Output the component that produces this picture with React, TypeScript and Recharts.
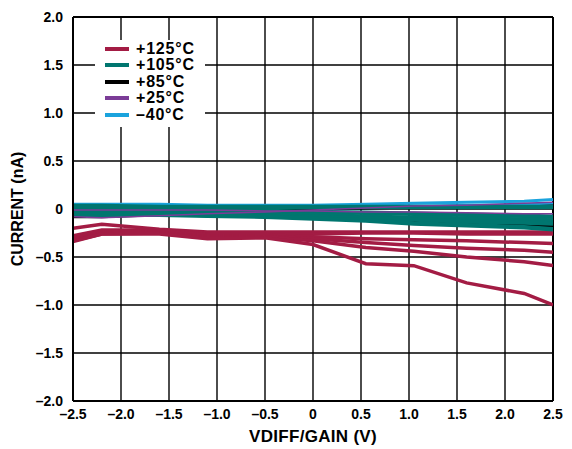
import React from 'react';
import {LineChart, Line, XAxis, YAxis, CartesianGrid, ReferenceLine, Label} from 'recharts';

// x positions (V) where the curves were sampled
const vdiff = [-2.5, -2.2, -1.6, -1.1, -0.5, 0, 0.55, 1.05, 1.6, 2.2, 2.5];

// +125°C parts
const hot1 = [-0.20, -0.16, -0.21, -0.24, -0.24, -0.24, -0.24, -0.24, -0.24, -0.24, -0.24];
const hot2 = [-0.28, -0.22, -0.22, -0.26, -0.26, -0.26, -0.25, -0.25, -0.26, -0.26, -0.26];
const hot3 = [-0.30, -0.24, -0.23, -0.27, -0.27, -0.29, -0.31, -0.32, -0.33, -0.35, -0.36];
const hot4 = [-0.32, -0.25, -0.24, -0.29, -0.28, -0.31, -0.35, -0.38, -0.41, -0.43, -0.45];
const hot5 = [-0.33, -0.26, -0.25, -0.30, -0.29, -0.33, -0.40, -0.44, -0.50, -0.55, -0.59];
const hot6 = [-0.34, -0.26, -0.26, -0.31, -0.30, -0.37, -0.57, -0.59, -0.77, -0.88, -1.00];

// +105°C parts
const t105a = [0.03, 0.03, 0.02, 0.02, 0.02, 0.02, 0.02, 0.02, 0.02, 0.02, 0.02];
const t105b = [0.01, 0.01, 0.00, -0.01, -0.02, -0.03, -0.04, -0.05, -0.06, -0.07, -0.08];
const t105c = [-0.02, -0.02, -0.03, -0.04, -0.05, -0.06, -0.08, -0.09, -0.10, -0.11, -0.12];
const t105d = [-0.04, -0.04, -0.05, -0.06, -0.07, -0.08, -0.10, -0.11, -0.13, -0.14, -0.15];
const t105e = [-0.06, -0.06, -0.06, -0.07, -0.08, -0.10, -0.12, -0.15, -0.17, -0.19, -0.21];

// +85°C parts
const t85a = [-0.08, -0.08, -0.06, -0.04, -0.02, 0.00, 0.01, 0.02, 0.03, 0.04, 0.05];
const t85b = [-0.06, -0.06, -0.06, -0.07, -0.08, -0.09, -0.11, -0.13, -0.15, -0.17, -0.18];

// +25°C parts
const t25a = [-0.08, -0.09, -0.07, -0.05, -0.03, -0.01, 0.01, 0.03, 0.04, 0.06, 0.07];
const t25b = [-0.01, -0.01, -0.01, -0.01, -0.02, -0.02, -0.03, -0.03, -0.04, -0.05, -0.05];

// -40°C parts
const cold1 = [0.05, 0.05, 0.05, 0.04, 0.04, 0.04, 0.05, 0.06, 0.07, 0.08, 0.10];
const cold2 = [0.03, 0.03, 0.03, 0.03, 0.02, 0.02, 0.03, 0.03, 0.04, 0.05, 0.06];

const xTicks = [-2.5, -2, -1.5, -1, -0.5, 0, 0.5, 1, 1.5, 2, 2.5];
const yTicks = [-2, -1.5, -1, -0.5, 0, 0.5, 1, 1.5, 2];

const legendItems = [
    {label: '+125°C', color: '#a31c44'},
    {label: '+105°C', color: '#00766f'},
    {label: '+85°C', color: '#000000'},
    {label: '+25°C', color: '#7b3c97'},
    {label: '\u201340°C', color: '#1aa3dd'},
];

const series: {key: string, values: number[], color: string, width: number}[] = [
    {key: 'hot1', values: hot1, color: '#a31c44', width: 3.5},
    {key: 'hot2', values: hot2, color: '#a31c44', width: 3.5},
    {key: 'hot3', values: hot3, color: '#a31c44', width: 3.5},
    {key: 'hot4', values: hot4, color: '#a31c44', width: 3.5},
    {key: 'hot5', values: hot5, color: '#a31c44', width: 3.5},
    {key: 'hot6', values: hot6, color: '#a31c44', width: 3.5},
    {key: 't85a', values: t85a, color: '#000000', width: 3},
    {key: 't85b', values: t85b, color: '#000000', width: 3},
    {key: 'cold1', values: cold1, color: '#1aa3dd', width: 3},
    {key: 'cold2', values: cold2, color: '#1aa3dd', width: 2.5},
    {key: 't105a', values: t105a, color: '#00766f', width: 4.5},
    {key: 't105b', values: t105b, color: '#00766f', width: 4.5},
    {key: 't105c', values: t105c, color: '#00766f', width: 4.5},
    {key: 't105d', values: t105d, color: '#00766f', width: 4.5},
    {key: 't105e', values: t105e, color: '#00766f', width: 4.5},
    {key: 't25a', values: t25a, color: '#7b3c97', width: 1.5},
    {key: 't25b', values: t25b, color: '#7b3c97', width: 1.5},
];

const data = vdiff.map((x, i) => {
    const row: Record<string, number> = {x};
    series.forEach(s => { row[s.key] = s.values[i]; });
    return row;
});

const FONT = '"Liberation Sans", Arial, sans-serif';

const fmt = (v: number) => v === 0 ? '0' : v.toFixed(1).replace('-', '\u2013');

const tickStyle = {fill: '#000', fontSize: 14, fontWeight: 700, fontFamily: FONT};

const App = (): JSX.Element => {
    return (
        <div style={{position: 'absolute', left: 0, top: 0, width: 572, height: 449, background: '#fff'}}>
            <LineChart width={572} height={449} data={data}
                       margin={{top: 17, right: 19, bottom: 0, left: 0}}>
                <CartesianGrid stroke="#000" strokeWidth={1.4} horizontalValues={yTicks} verticalValues={xTicks}/>
                <XAxis dataKey="x" type="number" domain={[-2.5, 2.5]} ticks={xTicks} tickFormatter={fmt}
                       height={48} tickLine={false} axisLine={{stroke: '#000', strokeWidth: 2}}
                       tick={tickStyle} interval={0} allowDataOverflow>
                    <Label value="VDIFF/GAIN (V)" position="insideBottom" offset={7}
                           style={{fill: '#000', fontSize: 17, fontWeight: 700, fontFamily: FONT, letterSpacing: 0.3}}/>
                </XAxis>
                <YAxis type="number" domain={[-2, 2]} ticks={yTicks} tickFormatter={fmt} width={73}
                       tickLine={false} tickMargin={4} axisLine={{stroke: '#000', strokeWidth: 2}}
                       tick={tickStyle} interval={0} allowDataOverflow>
                    <Label content={({viewBox}: any) => (
                        <text x={23} y={viewBox.y + viewBox.height / 2} textAnchor="middle"
                              transform={`rotate(-90, 23, ${viewBox.y + viewBox.height / 2})`}
                              style={{fill: '#000', fontSize: 16, fontWeight: 700, fontFamily: FONT}}>
                            CURRENT (nA)
                        </text>
                    )}/>
                </YAxis>
                <ReferenceLine y={2} stroke="#000" strokeWidth={2}/>
                <ReferenceLine x={2.5} stroke="#000" strokeWidth={2}/>
                {series.map(s => (
                    <Line key={s.key} dataKey={s.key} type="linear" stroke={s.color} strokeWidth={s.width}
                          dot={false} isAnimationActive={false}/>
                ))}
            </LineChart>
            <div style={{
                position: 'absolute', left: 95, top: 40, width: 110, height: 87, background: '#fff',
                fontFamily: FONT, fontWeight: 700, fontSize: 16, color: '#000',
            }}>
                {legendItems.map((item, i) => (
                    <div key={item.label} style={{position: 'absolute', left: 10, top: 0.5 + i * 16.6, height: 16, display: 'flex', alignItems: 'center'}}>
                        <span style={{display: 'inline-block', width: 24, height: 4, background: item.color, marginRight: 7}}/>
                        <span style={{lineHeight: '16px', letterSpacing: 0.8}}>{item.label}</span>
                    </div>
                ))}
            </div>
        </div>
    );
}

export default App;
